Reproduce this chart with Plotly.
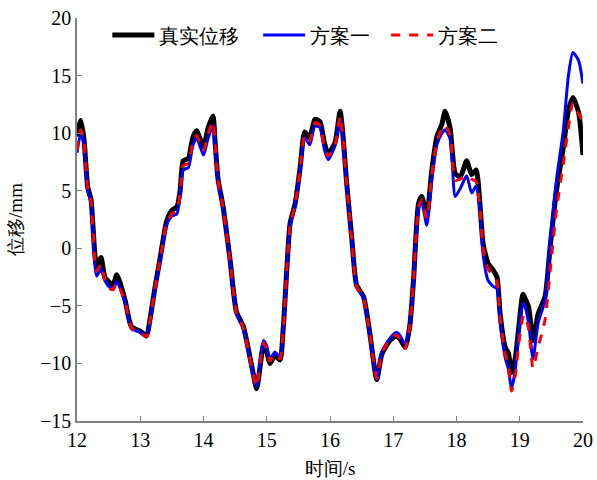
import plotly.graph_objects as go

# Time axis (s)
t = [12.00, 12.06, 12.11, 12.17, 12.22, 12.31, 12.38, 12.44, 12.52, 12.57,
     12.63, 12.76, 12.86, 13.00, 13.10, 13.15, 13.23, 13.31, 13.42, 13.50,
     13.58, 13.63, 13.68, 13.76, 13.83, 13.89, 14.00, 14.07, 14.15, 14.18,
     14.23, 14.31, 14.42, 14.52, 14.63, 14.70, 14.79, 14.84, 14.89, 14.95,
     15.00, 15.05, 15.13, 15.21, 15.26, 15.32, 15.37, 15.45, 15.53, 15.60,
     15.68, 15.76, 15.84, 15.91, 15.97, 16.08, 16.16, 16.21, 16.26, 16.35,
     16.42, 16.53, 16.63, 16.74, 16.82, 16.95, 17.05, 17.11, 17.19, 17.26,
     17.32, 17.40, 17.45, 17.53, 17.61, 17.69, 17.77, 17.82, 17.90, 17.98,
     18.06, 18.16, 18.24, 18.31, 18.37, 18.42, 18.50, 18.58, 18.64, 18.69,
     18.77, 18.82, 18.87, 18.93, 18.98, 19.05, 19.08, 19.14, 19.21, 19.29,
     19.40, 19.48, 19.58, 19.69, 19.77, 19.84, 19.93, 20.00]

# Measured displacement (mm)
true_disp = [9.7, 11.1, 9.5, 5.3, 4.3, -1.6, -0.8, -2.5, -3.0, -3.2,
             -2.3, -4.5, -6.8, -7.2, -7.6, -6.3, -3.5, -1.0, 2.4, 3.3,
             3.6, 5.0, 7.6, 7.8, 9.6, 10.2, 8.8, 10.4, 11.5, 9.5,
             6.0, 3.6, -1.0, -5.5, -6.8, -8.5, -11.0, -12.2, -10.5, -8.3,
             -9.0, -10.0, -9.3, -9.7, -7.0, -1.6, 2.2, 3.9, 7.1, 10.1,
             9.6, 11.2, 11.0, 9.2, 8.2, 9.2, 11.9, 9.5, 5.9, 0.5,
             -3.2, -4.2, -7.4, -11.4, -9.2, -8.0, -7.6, -7.9, -8.6, -6.8,
             -2.8, 3.9, 4.5, 2.9, 6.8, 9.7, 10.8, 11.9, 10.4, 6.5,
             6.2, 7.6, 6.4, 6.8, 3.9, 0.4, -1.3, -1.9, -2.5, -5.7,
             -8.6, -9.1, -10.8, -9.5, -7.1, -4.0, -4.3, -5.1, -8.0, -5.7,
             -4.2, 0.1, 5.0, 8.8, 12.0, 13.1, 11.8, 8.1]

# Scheme 1 prediction (mm)
scheme1 = [8.3, 10.0, 9.0, 5.0, 4.0, -2.4, -1.8, -2.8, -3.4, -3.5,
           -2.9, -4.7, -7.0, -7.3, -7.7, -6.5, -3.6, -1.2, 2.1, 2.8,
           3.0, 4.6, 6.8, 7.0, 8.9, 9.6, 8.1, 9.5, 10.7, 9.2,
           5.8, 3.5, -1.1, -5.6, -7.0, -8.7, -11.2, -12.0, -10.0, -8.0,
           -8.5, -9.6, -9.0, -9.5, -7.1, -1.7, 2.0, 3.7, 6.9, 9.6,
           9.0, 10.6, 10.5, 8.6, 7.7, 8.9, 11.2, 9.1, 5.7, 0.4,
           -3.3, -4.3, -7.5, -11.4, -9.0, -7.8, -7.3, -7.6, -8.4, -6.6,
           -3.0, 3.5, 4.0, 2.0, 6.0, 9.0, 10.0, 10.3, 9.5, 4.5,
           5.2, 6.3, 4.8, 5.4, 3.4, -0.5, -2.8, -3.3, -3.5, -6.5,
           -9.5, -10.5, -12.2, -10.5, -7.5, -4.8, -5.0, -6.5, -9.6, -6.5,
           -4.5, 0.5, 5.9, 10.3, 15.0, 17.0, 16.3, 14.3]

# Scheme 2 prediction (mm)
scheme2 = [8.5, 10.3, 9.2, 5.2, 4.1, -2.0, -1.4, -2.7, -3.5, -3.6,
           -3.0, -4.6, -6.9, -7.3, -7.7, -6.4, -3.6, -1.1, 2.2, 3.0,
           3.3, 4.8, 7.2, 7.4, 9.2, 9.8, 8.5, 9.9, 11.0, 9.3,
           5.9, 3.5, -1.1, -5.6, -6.9, -8.6, -11.1, -12.0, -10.3, -8.2,
           -8.8, -9.8, -9.2, -9.6, -7.1, -1.7, 2.1, 3.8, 7.0, 9.8,
           9.3, 10.9, 10.7, 8.9, 8.0, 9.0, 11.5, 9.3, 5.8, 0.4,
           -3.3, -4.3, -7.5, -11.3, -9.1, -7.9, -7.5, -7.9, -8.7, -6.8,
           -2.9, 3.6, 4.2, 2.6, 6.4, 9.3, 10.4, 10.7, 9.8, 5.9,
           6.0, 6.3, 6.0, 5.8, 3.5, 0.0, -1.8, -2.4, -2.9, -6.0,
           -9.2, -10.2, -12.4, -11.0, -8.5, -6.0, -5.8, -7.0, -10.4, -8.6,
           -6.2, -2.0, 3.3, 7.4, 10.5, 12.6, 11.7, 11.0]

series_names = ["真实位移", "方案一", "方案二"]
x_ticks = [12, 13, 14, 15, 16, 17, 18, 19, 20]
y_ticks = [-15, -10, -5, 0, 5, 10, 15, 20]

font_family = "Liberation Serif"

fig = go.Figure()
fig.add_trace(go.Scatter(x=t, y=true_disp, mode="lines", name=series_names[0],
                         legend="legend",
                         line=dict(color="black", width=5, shape="spline", smoothing=0.6)))
fig.add_trace(go.Scatter(x=t, y=scheme1, mode="lines", name=series_names[1],
                         legend="legend2",
                         line=dict(color="#0000ff", width=3, shape="spline", smoothing=0.6)))
fig.add_trace(go.Scatter(x=t, y=scheme2, mode="lines", name=series_names[2],
                         legend="legend3",
                         line=dict(color="#ff0000", width=3, dash="dash",
                                   shape="spline", smoothing=0.6)))

axis_common = dict(
    showgrid=False, zeroline=False, showline=True, linecolor="#808080",
    linewidth=1.5, ticks="inside", ticklen=5, tickcolor="#808080",
    tickfont=dict(family=font_family, size=20, color="black"),
    automargin=False,
)


def legend_at(xpos):
    # one single-entry legend per series, laid out along the top of the axes
    return dict(orientation="h", x=xpos, y=0.958, xanchor="left", yanchor="middle",
                font=dict(family=font_family, size=20), bgcolor="rgba(0,0,0,0)",
                itemwidth=42)


fig.update_layout(
    width=597, height=480,
    margin=dict(l=77, r=14, t=18, b=59),
    paper_bgcolor="white", plot_bgcolor="white",
    font=dict(family=font_family, color="black"),
    showlegend=True,
    legend=legend_at(0.06),
    legend2=legend_at(0.358),
    legend3=legend_at(0.611),
    xaxis=dict(range=[12, 20], tickvals=x_ticks,
               title=dict(text="时间/s", font=dict(family=font_family, size=19), standoff=12),
               **axis_common),
    yaxis=dict(range=[-15, 20], tickvals=y_ticks,
               title=dict(text="位移/mm", font=dict(family=font_family, size=19), standoff=12),
               **axis_common),
)

fig.write_html("out.html")
